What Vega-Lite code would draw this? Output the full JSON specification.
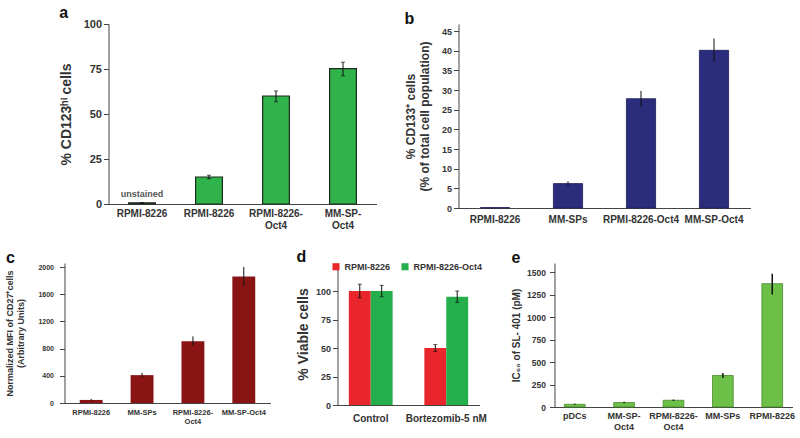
{
  "$schema": "https://vega.github.io/schema/vega-lite/v6.json",
  "background": "white",
  "padding": 5,
  "config": {
    "font": "Liberation Sans",
    "view": {"stroke": null},
    "axis": {"grid": false, "labelFont": "Liberation Sans", "labelFontWeight": "bold", "labelColor": "#333", "titleFont": "Liberation Sans", "titleFontWeight": "bold", "titleColor": "#333", "domainColor": "#444", "tickColor": "#444", "labelFontSize": 9, "titleFontSize": 11},
    "title": {"font": "Liberation Sans", "fontSize": 16, "fontWeight": "bold", "anchor": "start", "color": "#111", "offset": -3}
  },
  "resolve": {"scale": {"color": "independent"}, "legend": {"color": "independent"}},
  "vconcat": [
    {
      "spacing": 27,
      "hconcat": [
        {
          "title": {"text": "a"},
          "width": 268, "height": 180,
          "data": {"values": [
            {"cat": "RPMI-8226 ", "v": 0.6, "lo": 0.4, "hi": 0.8, "note": "unstained"},
            {"cat": "RPMI-8226", "v": 15, "lo": 14, "hi": 16, "note": ""},
            {"cat": "RPMI-8226-|Oct4", "v": 60, "lo": 56.8, "hi": 62.8, "note": ""},
            {"cat": "MM-SP-|Oct4", "v": 75.2, "lo": 71.2, "hi": 78.8, "note": ""}
          ]},
          "encoding": {
            "x": {"field": "cat", "type": "nominal", "sort": null, "scale": {"paddingInner": 0.6, "paddingOuter": 0.3},
                  "axis": {"title": null, "labelAngle": 0, "ticks": false, "labelExpr": "split(datum.label, '|')", "labelFontSize": 10, "labelPadding": 4}}
          },
          "layer": [
            {"mark": {"type": "bar", "color": "#2fb34a", "stroke": "#1e2a1e", "strokeWidth": 1.2},
             "encoding": {"y": {"field": "v", "type": "quantitative", "scale": {"domain": [0, 100]},
               "axis": {"values": [0, 25, 50, 75, 100], "title": "% CD123ʰⁱ cells", "titleFontSize": 14, "labelFontSize": 11, "titlePadding": 10}}}},
            {"mark": {"type": "errorbar", "ticks": {"size": 4}, "color": "#111"},
             "encoding": {"y": {"field": "lo", "type": "quantitative", "axis": {"values": [0, 25, 50, 75, 100], "title": "% CD123ʰⁱ cells", "titleFontSize": 14, "labelFontSize": 11, "titlePadding": 10}}, "y2": {"field": "hi"}}},
            {"mark": {"type": "text", "dy": -9, "fontSize": 9, "fontWeight": "bold", "color": "#555"},
             "encoding": {"y": {"field": "v", "type": "quantitative", "axis": {"values": [0, 25, 50, 75, 100], "title": "% CD123ʰⁱ cells", "titleFontSize": 14, "labelFontSize": 11, "titlePadding": 10}}, "text": {"field": "note"}}}
          ]
        },
        {
          "title": {"text": "b"},
          "width": 292, "height": 184,
          "data": {"values": [
            {"cat": "RPMI-8226", "v": 0.1, "lo": 0.05, "hi": 0.15},
            {"cat": "MM-SPs", "v": 6.2, "lo": 5.6, "hi": 6.8},
            {"cat": "RPMI-8226-Oct4", "v": 27.8, "lo": 25.8, "hi": 29.8},
            {"cat": "MM-SP-Oct4", "v": 40.1, "lo": 37.1, "hi": 43.1}
          ]},
          "encoding": {
            "x": {"field": "cat", "type": "nominal", "sort": null, "scale": {"paddingInner": 0.6, "paddingOuter": 0.3},
                  "axis": {"title": null, "labelAngle": 0, "ticks": false, "labelFontSize": 10, "labelPadding": 6}}
          },
          "layer": [
            {"mark": {"type": "bar", "color": "#2b2d7c", "stroke": "#1c1d55", "strokeWidth": 0.8},
             "encoding": {"y": {"field": "v", "type": "quantitative", "scale": {"domain": [0, 46.8], "nice": false},
               "axis": {"values": [0, 5, 10, 15, 20, 25, 30, 35, 40, 45], "title": ["% CD133⁺ cells", "(% of total cell population)"], "titleFontSize": 12, "labelFontSize": 9, "titlePadding": 10}}}},
            {"mark": {"type": "errorbar", "ticks": false, "color": "#111"},
             "encoding": {"y": {"field": "lo", "type": "quantitative", "axis": {"values": [0, 5, 10, 15, 20, 25, 30, 35, 40, 45], "title": ["% CD133⁺ cells", "(% of total cell population)"], "titleFontSize": 12, "labelFontSize": 9, "titlePadding": 10}}, "y2": {"field": "hi"}}}
          ]
        }
      ]
    },
    {
      "spacing": 25,
      "resolve": {"scale": {"color": "independent"}, "legend": {"color": "independent"}},
      "hconcat": [
        {
          "title": {"text": "c"},
          "width": 206, "height": 140,
          "data": {"values": [
            {"cat": "RPMI-8226", "v": 45, "lo": 30, "hi": 60},
            {"cat": "MM-SPs", "v": 410, "lo": 375, "hi": 445},
            {"cat": "RPMI-8226-|Oct4", "v": 910, "lo": 840, "hi": 980},
            {"cat": "MM-SP-Oct4", "v": 1860, "lo": 1720, "hi": 2000}
          ]},
          "encoding": {
            "x": {"field": "cat", "type": "nominal", "sort": null, "scale": {"paddingInner": 0.55, "paddingOuter": 0.3},
                  "axis": {"title": null, "labelAngle": 0, "ticks": false, "labelExpr": "split(datum.label, '|')", "labelFontSize": 7.5, "labelPadding": 5}}
          },
          "layer": [
            {"mark": {"type": "bar", "color": "#8a1414"},
             "encoding": {"y": {"field": "v", "type": "quantitative", "scale": {"domain": [0, 2059], "nice": false},
               "axis": {"values": [0, 400, 800, 1200, 1600, 2000], "format": "d", "title": ["Normalized MFI of CD27⁺cells", "(Arbitrary Units)"], "titleFontSize": 9, "labelFontSize": 7, "labelPadding": 6, "titlePadding": 12}}}},
            {"mark": {"type": "errorbar", "ticks": false, "color": "#111"},
             "encoding": {"y": {"field": "lo", "type": "quantitative", "axis": {"values": [0, 400, 800, 1200, 1600, 2000], "format": "d", "title": ["Normalized MFI of CD27⁺cells", "(Arbitrary Units)"], "titleFontSize": 9, "labelFontSize": 7, "labelPadding": 6, "titlePadding": 12}}, "y2": {"field": "hi"}}}
          ]
        },
        {
          "title": {"text": "d"},
          "width": 142, "height": 142,
          "data": {"values": [
            {"grp": "Control", "s": "RPMI-8226", "v": 100, "lo": 94, "hi": 106},
            {"grp": "Control", "s": "RPMI-8226-Oct4", "v": 100, "lo": 95, "hi": 105},
            {"grp": "Bortezomib-5 nM", "s": "RPMI-8226", "v": 50, "lo": 47, "hi": 53},
            {"grp": "Bortezomib-5 nM", "s": "RPMI-8226-Oct4", "v": 95, "lo": 90, "hi": 100}
          ]},
          "encoding": {
            "x": {"field": "grp", "type": "nominal", "sort": null, "scale": {"paddingInner": 0.42, "paddingOuter": 0.15},
                  "axis": {"title": null, "labelAngle": 0, "ticks": false, "labelFontSize": 10, "labelPadding": 8}},
            "xOffset": {"field": "s", "type": "nominal"}
          },
          "layer": [
            {"mark": {"type": "bar"},
             "encoding": {
               "y": {"field": "v", "type": "quantitative", "scale": {"domain": [0, 124.6], "nice": false},
                 "axis": {"values": [0, 25, 50, 75, 100], "title": "% Viable cells", "titleFontSize": 14, "labelFontSize": 9, "titlePadding": 5}},
               "color": {"field": "s", "type": "nominal", "scale": {"domain": ["RPMI-8226", "RPMI-8226-Oct4"], "range": ["#e8262b", "#24ae4c"]},
                 "legend": {"orient": "none", "legendX": -6, "legendY": -1, "direction": "horizontal", "title": null, "symbolType": "square", "labelFontSize": 9, "labelFontWeight": "bold", "labelColor": "#333", "symbolSize": 50, "columnPadding": 10, "labelOffset": 4}}
             }},
            {"mark": {"type": "errorbar", "ticks": {"size": 4}, "color": "#111"},
             "encoding": {"y": {"field": "lo", "type": "quantitative", "axis": {"values": [0, 25, 50, 75, 100], "title": "% Viable cells", "titleFontSize": 14, "labelFontSize": 9, "titlePadding": 5}}, "y2": {"field": "hi"}, "xOffset": {"field": "s", "type": "nominal"}}}
          ]
        },
        {
          "title": {"text": "e"},
          "width": 238, "height": 144,
          "data": {"values": [
            {"cat": "pDCs", "v": 30, "lo": 24, "hi": 36},
            {"cat": "MM-SP-|Oct4", "v": 50, "lo": 43, "hi": 57},
            {"cat": "RPMI-8226-|Oct4", "v": 75, "lo": 67, "hi": 83},
            {"cat": "MM-SPs", "v": 350, "lo": 322, "hi": 378},
            {"cat": "RPMI-8226", "v": 1370, "lo": 1250, "hi": 1480}
          ]},
          "encoding": {
            "x": {"field": "cat", "type": "nominal", "sort": null, "scale": {"paddingInner": 0.58, "paddingOuter": 0.2},
                  "axis": {"title": null, "labelAngle": 0, "ticks": false, "labelExpr": "split(datum.label, '|')", "labelFontSize": 9, "labelPadding": 4}}
          },
          "layer": [
            {"mark": {"type": "bar", "color": "#6cbf47", "stroke": "#4a8a2c", "strokeWidth": 0.8},
             "encoding": {"y": {"field": "v", "type": "quantitative", "scale": {"domain": [0, 1500]},
               "axis": {"values": [0, 250, 500, 750, 1000, 1250, 1500], "format": "d", "title": "IC₅₀ of SL- 401 (pM)", "titleFontSize": 10, "labelFontSize": 8.5, "labelPadding": 4, "titlePadding": 5}}}},
            {"mark": {"type": "errorbar", "ticks": false, "color": "#111", "thickness": 1.5},
             "encoding": {"y": {"field": "lo", "type": "quantitative", "axis": {"values": [0, 250, 500, 750, 1000, 1250, 1500], "format": "d", "title": "IC₅₀ of SL- 401 (pM)", "titleFontSize": 10, "labelFontSize": 8.5, "labelPadding": 4, "titlePadding": 5}}, "y2": {"field": "hi"}}}
          ]
        }
      ]
    }
  ],
  "center": true,
  "spacing": 19
}
